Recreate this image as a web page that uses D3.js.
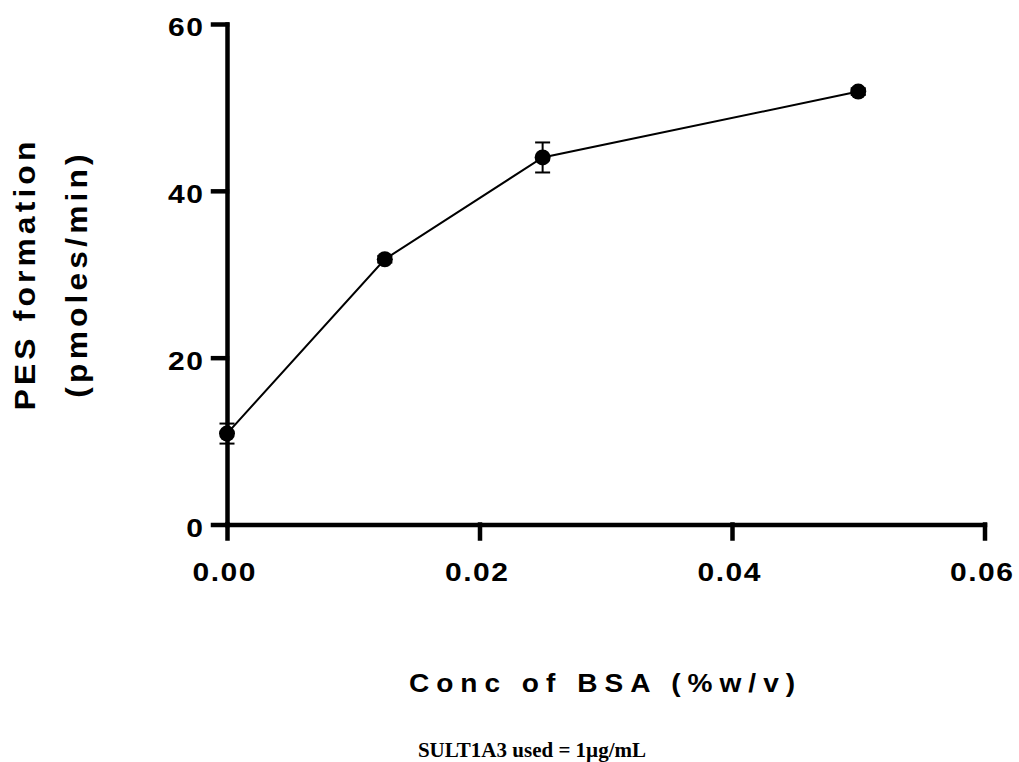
<!DOCTYPE html>
<html>
<head>
<meta charset="utf-8">
<script src="https://cdn.jsdelivr.net/npm/d3@7"></script>
<style>
  html, body { margin: 0; padding: 0; background: #fff; }
  svg { display: block; }
  .tick text { font-family: "Liberation Sans", Arial, sans-serif; font-weight: bold; }
</style>
</head>
<body>
<svg id="chart" width="1019" height="762"></svg>
<script>
// BSA concentration (% w/v) against PES formation rate
const bsaConc = [0, 0.0125, 0.025, 0.05];
const pesRate = [10.9, 31.8, 44.0, 51.9];
const pesErr  = [1.2, 0.4, 1.8, 0.4];

const xTicks = [0, 0.02, 0.04, 0.06];
const yTicks = [0, 20, 40, 60];

const xTitle = "Conc of BSA (%w/v)";
const yTitleLines = ["PES formation", "(pmoles/min)"];
const footnote = "SULT1A3 used = 1\u00b5g/mL";

const svg = d3.select("#chart");
const margin = { left: 227, top: 24 };
const plotW = 757.5, plotH = 500.5;

// Sans labels are drawn slightly widened
const tickStretch = 1.2;
const titleStretch = 1.06;

const x = d3.scaleLinear().domain([0, 0.06]).range([0, plotW]);
const y = d3.scaleLinear().domain([0, 60]).range([plotH, 0]);

const g = svg.append("g").attr("transform", `translate(${margin.left},${margin.top})`);

const tickSpacing = 1.3;

// Y axis
const yAxis = g.append("g")
  .call(d3.axisLeft(y).tickValues(yTicks).tickFormat(d3.format("d")).tickSize(14).tickSizeOuter(0).tickPadding(10));
// X axis
const xAxis = g.append("g")
  .attr("transform", `translate(0,${plotH})`)
  .call(d3.axisBottom(x).tickValues(xTicks).tickFormat(d3.format(".2f")).tickSize(14).tickSizeOuter(0).tickPadding(25));

[yAxis, xAxis].forEach(ax => {
  ax.select(".domain").attr("stroke", "#000").attr("stroke-width", 4.5).attr("stroke-linecap", "square");
  ax.selectAll(".tick line").attr("stroke", "#000").attr("stroke-width", 4.5).attr("stroke-linecap", "square");
  ax.selectAll(".tick text")
    .attr("fill", "#000")
    .style("font-size", "25px")
    .style("letter-spacing", tickSpacing + "px");
});
// widen tick labels; positions are divided so they stay anchored
yAxis.selectAll(".tick text")
  .attr("x", (-24 + tickSpacing * tickStretch) / tickStretch)
  .attr("dy", "0.47em")
  .attr("transform", `scale(${tickStretch},1)`);
xAxis.selectAll(".tick text")
  .attr("x", (-tickSpacing * tickStretch / 2 - 2) / tickStretch)
  .attr("transform", `scale(${tickStretch},1)`);

// Connecting line
const line = d3.line().x((d, i) => x(bsaConc[i])).y(d => y(d));
g.append("path")
  .datum(pesRate)
  .attr("d", line)
  .attr("fill", "none")
  .attr("stroke", "#000")
  .attr("stroke-width", 2);

// Error bars (mean ± SEM)
const capHalf = 7.5;
const eb = g.append("g").attr("stroke", "#000").attr("stroke-width", 2);
pesRate.forEach((v, i) => {
  const cx = x(bsaConc[i]);
  const top = y(v + pesErr[i]), bot = y(v - pesErr[i]);
  eb.append("line").attr("x1", cx).attr("x2", cx).attr("y1", top).attr("y2", bot);
  eb.append("line").attr("x1", cx - capHalf).attr("x2", cx + capHalf).attr("y1", top).attr("y2", top);
  eb.append("line").attr("x1", cx - capHalf).attr("x2", cx + capHalf).attr("y1", bot).attr("y2", bot);
});

// Markers
g.selectAll("circle.pt")
  .data(pesRate)
  .join("circle")
  .attr("class", "pt")
  .attr("cx", (d, i) => x(bsaConc[i]))
  .attr("cy", d => y(d))
  .attr("r", 8)
  .attr("fill", "#000");

// X axis title
const xSpacing = 6.6;
svg.append("text")
  .attr("transform", `translate(${602 + xSpacing * titleStretch / 2},692) scale(${titleStretch},1)`)
  .attr("text-anchor", "middle")
  .style("font-family", "'Liberation Sans', Arial, sans-serif")
  .style("font-weight", "bold")
  .style("font-size", "26.5px")
  .style("letter-spacing", xSpacing + "px")
  .text(xTitle);

// Y axis title (two lines, rotated)
const ySpacing = 3.9;
const yBaselines = [35, 87];
yTitleLines.forEach((t, i) => {
  svg.append("text")
    .attr("transform", `translate(${yBaselines[i]},${276 - ySpacing * titleStretch / 2}) rotate(-90) scale(${titleStretch},1)`)
    .attr("text-anchor", "middle")
    .style("font-family", "'Liberation Sans', Arial, sans-serif")
    .style("font-weight", "bold")
    .style("font-size", "30px")
    .style("letter-spacing", ySpacing + "px")
    .text(t);
});

// Footnote
svg.append("text")
  .attr("x", 532)
  .attr("y", 757)
  .attr("text-anchor", "middle")
  .style("font-family", "'Liberation Serif', 'Times New Roman', serif")
  .style("font-weight", "bold")
  .style("font-size", "21px")
  .text(footnote);
</script>
</body>
</html>
